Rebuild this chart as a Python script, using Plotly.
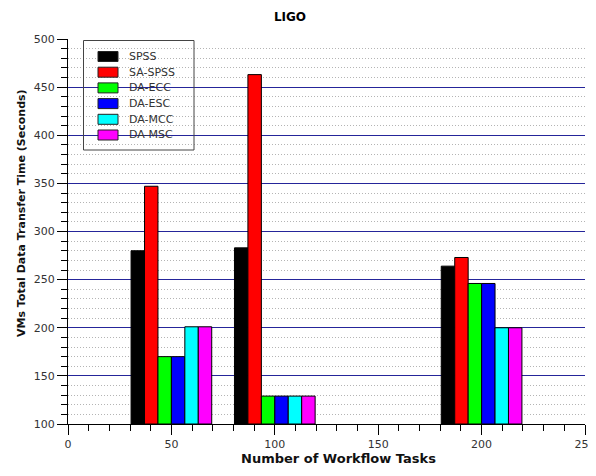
import plotly.graph_objects as go

tasks = [50, 100, 200]
series_names = ["SPSS", "SA-SPSS", "DA-ECC", "DA-ESC", "DA-MCC", "DA-MSC"]
spss = [280, 283, 264]
sa_spss = [347, 463, 273]
da_ecc = [170, 129, 246]
da_esc = [170, 129, 246]
da_mcc = [201, 129, 200]
da_msc = [201, 129, 200]
colors = ["#000000", "#ff0000", "#00ff00", "#0000ff", "#00ffff", "#ff00ff"]

series = [spss, sa_spss, da_ecc, da_esc, da_mcc, da_msc]

# page offset (body margin) and figure size
OFF = 8
W, H = 588, 468
L, R, T, B = 60, 11, 31, 52
PX0, PX1 = OFF + L, OFF + W - R      # plot left/right in page px
PY0, PY1 = OFF + T, OFF + H - B      # plot top/bottom in page px

def pp(x, y):
    """page pixel -> paper coords"""
    return (x - PX0) / (PX1 - PX0), (PY1 - y) / (PY1 - PY0)

fig = go.Figure()
for name, vals, c in zip(series_names, series, colors):
    fig.add_trace(go.Bar(
        x=tasks, y=[v - 100 for v in vals], base=100, name=name,
        marker=dict(color=c, line=dict(color="black", width=1)),
        showlegend=False,
    ))

font_family = "DejaVu Sans"

# manual legend (decoration)
shapes = []
annotations = []
x0, y0 = pp(83.5, 40.5)
x1, y1 = pp(194, 150)
shapes.append(dict(type="rect", xref="paper", yref="paper", x0=x0, y0=y1, x1=x1, y1=y0,
                   line=dict(color="#444444", width=1), fillcolor="rgba(0,0,0,0)", layer="above"))
for i, (name, c) in enumerate(zip(series_names, colors)):
    cy = 56.5 + i * 15.7
    sx0, sy0 = pp(98, cy - 5)
    sx1, sy1 = pp(118, cy + 5)
    shapes.append(dict(type="rect", xref="paper", yref="paper", x0=sx0, y0=sy1, x1=sx1, y1=sy0,
                       line=dict(color="#222222", width=1), fillcolor=c, layer="above"))
    tx, ty = pp(127, cy)
    annotations.append(dict(text=name, xref="paper", yref="paper", x=tx, y=ty,
                            xanchor="left", yanchor="middle", showarrow=False,
                            font=dict(family=font_family, size=11, color="#333333")))

# axis titles as annotations
ax_, ay_ = pp(338, 459)
annotations.append(dict(text="<b>Number of Workflow Tasks</b>", xref="paper", yref="paper",
                        x=ax_, y=ay_, xanchor="center", yanchor="middle", showarrow=False,
                        font=dict(family=font_family, size=13, color="#111111")))
bx_, by_ = pp(21, 213)
annotations.append(dict(text="<b>VMs Total Data Transfer Time (Seconds)</b>", xref="paper", yref="paper",
                        x=bx_, y=by_, xanchor="center", yanchor="middle", showarrow=False,
                        textangle=-90,
                        font=dict(family=font_family, size=11, color="#111111")))

fig.update_layout(
    width=W, height=H,
    margin=dict(l=L, r=R, t=T, b=B),
    paper_bgcolor="white", plot_bgcolor="white",
    barmode="group", bargap=0.22, bargroupgap=0,
    showlegend=False,
    shapes=shapes, annotations=annotations,
    title=dict(text="<b>LIGO</b>", x=(290 - OFF) / W, xanchor="center",
               y=1 - (17 - OFF) / H, yanchor="middle",
               font=dict(family=font_family, size=12, color="black")),
    font=dict(family=font_family, size=11, color="#222222"),
    xaxis=dict(range=[0, 250], tickvals=[0, 50, 100, 150, 200, 250],
               showgrid=False, zeroline=False, automargin=False,
               showline=True, linecolor="black", linewidth=1,
               ticks="outside", ticklen=10, tickcolor="black",
               minor=dict(dtick=10, ticks="outside", ticklen=6, tickcolor="black", showgrid=False),
               tickfont=dict(size=11, color="#333333")),
    yaxis=dict(range=[100, 500], dtick=50, tick0=0,
               showgrid=True, gridcolor="#25259a", gridwidth=1,
               zeroline=False, showline=True, linecolor="black", linewidth=1,
               automargin=False,
               ticks="outside", ticklen=10, tickcolor="black",
               minor=dict(dtick=10, ticks="outside", ticklen=6, tickcolor="black",
                          showgrid=True, gridcolor="#b4b4b4", griddash="1px,2px", gridwidth=1),
               tickfont=dict(size=11, color="#333333")),
)

fig.write_html("out.html")
